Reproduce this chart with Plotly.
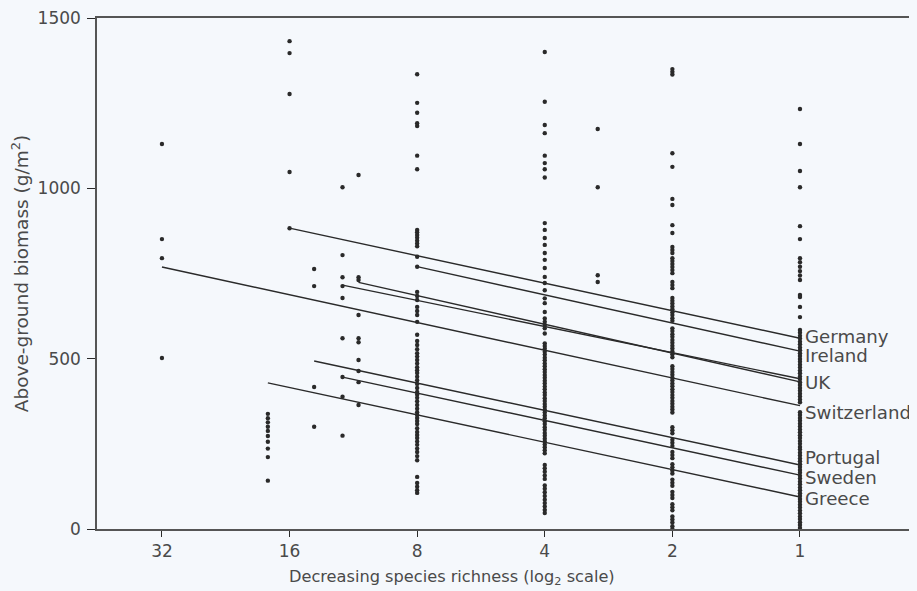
import math
import plotly.graph_objects as go

# ---------------- data ----------------
richness_levels = [32, 18, 16, 14, 12, 11, 8, 4, 3, 2, 1]
tick_values = [32, 16, 8, 4, 2, 1]
tick_labels = ["32", "16", "8", "4", "2", "1"]

col32 = [1130, 851, 795, 502]
col18 = [338, 325, 313, 300, 288, 273, 256, 236, 211, 142]
col16 = [1432, 1397, 1277, 1048, 883]
col14 = [763, 713, 417, 300]
col12 = [1003, 804, 739, 713, 678, 560, 446, 388, 274]
col11 = [1039, 739, 731, 628, 560, 548, 496, 464, 431, 364]
col8 = [1335, 1251, 1222, 1191, 1183, 1096, 1056, 878, 871, 863, 855, 846, 838, 830,
        799, 770, 696, 684, 672, 652, 640, 628, 608, 570, 552, 540, 528, 516, 506, 496,
        486, 475, 466, 458, 447, 437, 426, 414, 402, 394, 385, 375, 364, 353, 343, 335,
        326, 317, 308, 296, 285, 276, 267, 257, 247, 236, 226, 214, 202, 153, 135, 124,
        114, 106]
col4 = [1400, 1254, 1186, 1162, 1096, 1074, 1056, 1032, 898, 878, 854, 834, 810, 790,
        766, 740, 722, 701, 677, 663, 637, 618, 608, 599, 589, 574, 545, 537, 529, 520,
        512, 503, 495, 486, 478, 469, 461, 452, 444, 435, 427, 418, 410, 401, 393, 384,
        376, 367, 359, 350, 342, 333, 325, 316, 308, 299, 291, 282, 274, 265, 257, 248,
        240, 231, 222, 188, 178, 168, 157, 147, 128, 118, 108, 97, 86, 76, 66, 56, 47]
col3 = [1174, 1003, 745, 725]
col2 = [1350, 1342, 1334, 1103, 1063, 969, 951, 892, 869, 828, 819, 810, 795, 787, 778,
        769, 760, 751, 725, 716, 707, 678, 670, 662, 653, 645, 636, 628, 619, 611, 589,
        581, 572, 564, 555, 547, 538, 530, 521, 513, 504, 478, 470, 461, 453, 444, 436,
        427, 419, 410, 402, 393, 385, 376, 368, 359, 351, 342, 299, 290, 281, 262, 253,
        244, 226, 217, 208, 190, 181, 172, 163, 145, 136, 127, 109, 100, 91, 73, 64, 55,
        37, 28, 19, 8, 0]
col1 = [1233, 1130, 1051, 1003, 889, 851, 795, 783, 770, 757, 744, 731, 687, 681, 652,
        622, 584, 576, 567, 559, 550, 542, 533, 525, 516, 508, 499, 491, 482, 474, 465,
        457, 448, 440, 431, 423, 414, 406, 397, 389, 380, 372, 343, 335, 326, 318, 309,
        301, 292, 284, 275, 267, 258, 250, 241, 233, 224, 216, 207, 199, 190, 182, 173,
        165, 156, 148, 139, 131, 122, 114, 105, 97, 88, 80, 71, 63, 54, 46, 37, 29, 20,
        12, 3]
columns = [col32, col18, col16, col14, col12, col11, col8, col4, col3, col2, col1]

countries = ["Germany", "Ireland", "UK", "UK", "Switzerland", "Portugal", "Sweden", "Greece"]
line_start_richness = [16, 8, 12, 11, 32, 14, 12, 18]
line_start_biomass = [883, 770, 716, 724, 769, 493, 446, 429]
line_end_biomass = [560, 522, 441, 432, 362, 188, 158, 94]

label_names = ["Germany", "Ireland", "UK", "Switzerland", "Portugal", "Sweden", "Greece"]
label_biomass = [566, 508, 431, 343, 209, 150, 91]

x_title = "Decreasing species richness (log<sub>2</sub> scale)"
y_title = "Above-ground biomass (g/m<sup>2</sup>)"

# ---------------- figure ----------------
ink = "#2a2a2a"
text_col = "#4a4a4a"
bg = "#f5f8fc"
font_family = "'DejaVu Sans', Verdana, sans-serif"

fig = go.Figure()

xs, ys = [], []
for r, col in zip(richness_levels, columns):
    xs += [r] * len(col)
    ys += col
fig.add_trace(go.Scatter(x=xs, y=ys, mode="markers",
                         marker=dict(color=ink, size=4.4, line=dict(width=0)),
                         cliponaxis=False, showlegend=False, hoverinfo="skip"))

for name, s, a, b in zip(countries, line_start_richness, line_start_biomass, line_end_biomass):
    fig.add_trace(go.Scatter(x=[s, 1], y=[a, b], mode="lines",
                             line=dict(color=ink, width=1.4),
                             showlegend=False, name=name, hoverinfo="skip"))

for name, yb in zip(label_names, label_biomass):
    fig.add_annotation(x=math.log10(1), y=yb, xref="x", yref="y", text=name,
                       showarrow=False, xanchor="left", yanchor="middle", xshift=3,
                       font=dict(size=18.2, color=text_col, family=font_family))

# x-axis title sits left of the (cropped) plot centre, as in the reference
fig.add_annotation(x=0.433, y=0, xref="paper", yref="paper", text=x_title,
                   showarrow=False, xanchor="center", yanchor="middle", yshift=-48,
                   font=dict(size=16.2, color=text_col, family=font_family))

left_l2 = 5.509
right_l2 = -0.917
fig.update_xaxes(type="log",
                 range=[left_l2 * math.log10(2), right_l2 * math.log10(2)],
                 tickvals=tick_values, ticktext=tick_labels,
                 ticks="outside", ticklen=6, tickwidth=1.2, tickcolor=ink,
                 showline=True, linecolor="#555555", linewidth=1.5, mirror=True,
                 showgrid=False, zeroline=False, automargin=False,
                 ticklabeloverflow="allow",
                 tickfont=dict(size=17, color=text_col, family=font_family))
fig.update_yaxes(range=[0, 1500], tickvals=[0, 500, 1000, 1500],
                 ticks="outside", ticklen=8, tickwidth=1.2, tickcolor=ink,
                 showline=True, linecolor="#555555", linewidth=1.5,
                 showgrid=False, zeroline=False, automargin=False,
                 ticklabeloverflow="allow", ticklabelstandoff=3,
                 tickfont=dict(size=17, color=text_col, family=font_family),
                 title=dict(text=y_title,
                            font=dict(size=18.5, color=text_col, family=font_family),
                            standoff=6))

fig.update_layout(width=909, height=583,
                  margin=dict(l=89, r=0, t=10, b=62),
                  paper_bgcolor=bg, plot_bgcolor=bg,
                  font=dict(family=font_family, color=text_col))

fig.write_html("out.html",
               post_script="document.body.style.background='%s';" % bg)
